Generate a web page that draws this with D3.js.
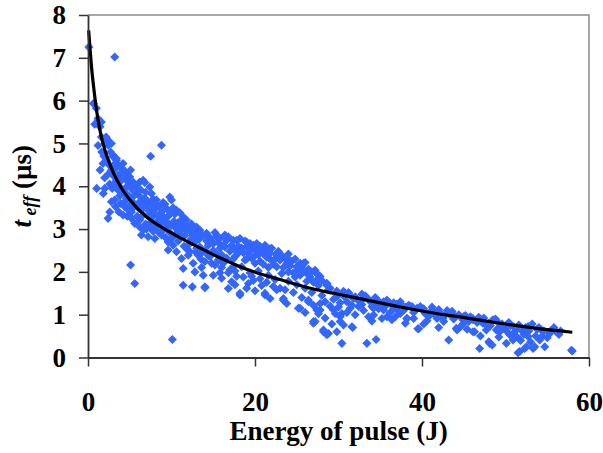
<!DOCTYPE html>
<html>
<head>
<meta charset="utf-8">
<script src="https://cdn.jsdelivr.net/npm/d3@7"></script>
<style>
  body { margin: 0; background: #fff; }
  svg { display: block; }
  svg text { font-family: 'Liberation Serif', 'Times New Roman', Tinos, 'DejaVu Serif', serif; }
</style>
</head>
<body>
<svg id="chart"></svg>
<script>
// measured points: [energy (J), t_eff (us)]
const measured = [
  [0.1, 7.25], [3.2, 7.02], [8.8, 4.96], [7.5, 4.70],
  [0.64, 5.93], [1.0, 5.82], [1.2, 5.58], [1.44, 5.39], [1.6, 5.5], [2.16, 5.15], [2.3, 5.08],
  [2.4, 4.96], [1.64, 4.80], [3.0, 4.73], [3.4, 4.65], [4.2, 4.53], [3.8, 4.45], [1.8, 4.53],
  [1.44, 4.38], [5.1, 4.38], [1.04, 3.95], [1.83, 3.83], [3.4, 4.14], [4.6, 3.98], [6.2, 4.10],
  [6.6, 4.14], [7.4, 3.98], [5.4, 4.1], [1.24, 5.54], [2.24, 5.12], [3.0, 4.69], [3.4, 4.61],
  [2.8, 4.38], [3.6, 4.26], [6.8, 4.09], [4.8, 4.10], [3.0, 4.03], [3.6, 3.91], [5.6, 3.87],
  [7.6, 3.83], [9.8, 3.75], [10.0, 3.68], [3.2, 3.68], [2.8, 3.64], [4.4, 3.64], [6.8, 3.72],
  [8.2, 3.68], [8.6, 3.52], [9.4, 3.48], [2.6, 3.40], [2.4, 3.25], [4.2, 3.33], [5.2, 3.25],
  [6.6, 3.33], [7.6, 3.44], [5.6, 3.13], [6.2, 3.21], [7.6, 3.17], [8.2, 3.05], [9.2, 3.17],
  [10.0, 3.09], [11.2, 3.21], [11.6, 3.09], [6.4, 2.86], [7.2, 2.82], [8.0, 2.78], [8.8, 2.86],
  [9.6, 2.70], [10.4, 2.86], [11.2, 3.02], [12.8, 3.02], [13.2, 2.90], [12.4, 2.78], [9.6, 2.51],
  [10.6, 2.47], [11.2, 2.31], [12.0, 2.39], [13.2, 2.39], [14.0, 2.24], [11.4, 2.08], [5.1, 2.16],
  [5.6, 1.73], [11.4, 1.69], [12.5, 1.65], [14.0, 1.63], [10.1, 0.42],
  [4.0, 4.30], [4.5, 4.20], [5.0, 4.05], [5.8, 3.95], [4.2, 3.85], [5.0, 3.75], [6.0, 3.60],
  [5.4, 3.50], [4.8, 3.45], [6.4, 3.45], [7.0, 3.55], [7.2, 3.30], [8.0, 3.35], [8.4, 3.20],
  [9.0, 3.30], [9.0, 2.98], [9.8, 2.92], [10.6, 3.00], [10.8, 2.72], [11.6, 2.85], [12.2, 2.95],
  [12.0, 2.62], [12.8, 2.70], [13.4, 2.58], [2.0, 4.20], [2.6, 4.05], [2.0, 3.95], [3.8, 3.78],
  [6.6, 2.98], [7.8, 2.95], [10.4, 3.35], [10.6, 3.44], [11.8, 3.21], [13.0, 3.05], [11.4, 3.29],
  [16.0, 1.85], [17.2, 1.77], [16.8, 1.61], [18.2, 1.50], [19.2, 1.73], [21.2, 1.50], [22.6, 1.58],
  [23.4, 1.34], [25.2, 1.15], [27.0, 0.84], [27.8, 1.11], [28.2, 0.64], [28.8, 0.56],
  [17.4, 2.12], [14.8, 2.20], [12.2, 2.47], [13.0, 2.55], [14.2, 2.90], [15.4, 2.82], [16.6, 2.74],
  [17.8, 2.74], [19.0, 2.59], [20.2, 2.51], [21.4, 2.47], [22.6, 2.39], [23.8, 2.20], [25.0, 2.12],
  [26.2, 1.96], [27.8, 1.89], [28.6, 1.69], [13.4, 2.97], [15.4, 2.86], [17.4, 2.74], [19.4, 2.66],
  [22.6, 2.43], [25.4, 2.20], [27.4, 1.96], [28.6, 1.73], [30.6, 1.54], [15.6, 2.28], [18.2, 1.46],
  [21.2, 1.46], [23.4, 1.38], [23.8, 1.26], [27.4, 1.11], [27.2, 0.84], [28.6, 0.53], [30.4, 0.33],
  [29.6, 1.03], [30.2, 0.84], [14.0, 1.65],
  [14.4, 2.62], [15.0, 2.50], [15.6, 2.68], [16.0, 2.40], [16.4, 2.58], [17.0, 2.48], [17.6, 2.36],
  [18.0, 2.60], [18.6, 2.45], [19.0, 2.30], [19.6, 2.52], [20.0, 2.38], [20.6, 2.25], [21.0, 2.42],
  [21.8, 2.30], [22.2, 2.18], [23.0, 2.28], [23.4, 2.10], [24.2, 2.14], [24.6, 1.98], [25.8, 2.02],
  [26.6, 1.88], [14.6, 2.36], [15.2, 2.16], [16.2, 2.20], [17.0, 2.05], [18.4, 2.12], [19.4, 1.98],
  [20.4, 2.02], [21.6, 1.92], [22.4, 1.82], [24.0, 1.78], [25.0, 1.70], [26.0, 1.62], [16.4, 2.86],
  [18.8, 2.72], [20.6, 2.60], [21.8, 2.54], [24.0, 2.30], [13.6, 2.44], [14.8, 2.72], [12.6, 2.20],
  [13.6, 2.10], [15.8, 1.98], [17.8, 1.90], [19.8, 1.80], [20.8, 1.68], [23.0, 1.62],
  [25.8, 2.20], [27.4, 1.81], [28.6, 1.73], [30.6, 1.54], [32.0, 1.42], [32.6, 1.30], [34.0, 1.19],
  [35.8, 1.34], [37.4, 1.30], [38.6, 1.19], [39.8, 1.19], [41.4, 1.07], [43.4, 1.03], [46.1, 0.91],
  [48.5, 0.88], [50.1, 0.76], [52.7, 0.72], [55.3, 0.56], [50.5, 0.53], [49.3, 0.60], [47.7, 0.64],
  [46.1, 0.60], [44.1, 0.68], [42.5, 0.91], [37.4, 1.03], [35.4, 1.11], [34.2, 0.99], [30.2, 0.95],
  [29.4, 1.11], [26.4, 1.34], [25.4, 1.15], [27.8, 1.26], [31.4, 1.15], [35.8, 0.95], [38.2, 0.91],
  [44.9, 0.88], [47.3, 0.80], [49.3, 0.72], [51.3, 0.64], [50.9, 0.41],
  [27.0, 0.80], [28.2, 0.60], [31.6, 0.72], [33.4, 0.33], [34.5, 0.42], [39.5, 0.67], [43.2, 0.41],
  [46.9, 0.21], [48.1, 0.33], [50.1, 0.33], [51.5, 0.11], [52.5, 0.25], [53.5, 0.25], [54.7, 0.25],
  [54.1, 0.41], [58.0, 0.15],
  [30.6, 1.50], [31.8, 1.38], [32.4, 1.19], [30.4, 1.03], [30.6, 0.76], [31.7, 0.70], [34.2, 1.15],
  [35.4, 1.30], [35.2, 0.91], [37.4, 1.26], [36.8, 0.95], [38.2, 0.91], [38.8, 1.19], [39.0, 0.91],
  [39.6, 0.67], [41.0, 1.07], [41.8, 0.91], [43.4, 0.99], [44.2, 0.64], [44.6, 0.72], [46.1, 0.88],
  [46.3, 0.60], [48.0, 0.37], [48.4, 0.29], [47.7, 0.76], [48.9, 0.64], [49.7, 0.68], [51.3, 0.49],
  [51.7, 0.14], [52.3, 0.21], [52.7, 0.49], [52.7, 0.72], [53.3, 0.21], [55.3, 0.60], [57.9, 0.17],
  [29.0, 1.62], [29.8, 1.42], [31.0, 1.30], [32.8, 1.48], [33.6, 1.36], [34.6, 1.26], [36.4, 1.22],
  [37.0, 1.12], [40.4, 1.02], [42.0, 1.12], [42.8, 1.00], [44.0, 0.96], [45.2, 0.98], [45.6, 0.84],
  [47.0, 0.86], [48.0, 0.80], [49.0, 0.84], [50.0, 0.68], [51.0, 0.72], [52.0, 0.62], [53.8, 0.66],
  [54.4, 0.50], [56.0, 0.62], [28.0, 1.45], [26.8, 1.52], [28.4, 1.30], [36.2, 1.05], [40.6, 0.86],
  // denser core, left part
  [3.2, 4.40], [3.6, 4.50], [3.9, 4.12], [4.3, 4.38], [4.6, 4.28], [5.0, 4.22], [5.3, 3.92],
  [5.7, 4.02], [6.0, 3.80], [6.3, 3.92], [6.5, 3.70], [6.9, 3.86], [7.2, 3.62], [7.6, 3.58],
  [3.3, 3.52], [3.7, 3.40], [4.4, 3.52], [4.7, 3.30], [5.2, 3.40], [5.9, 3.30], [6.2, 3.05],
  [6.9, 3.12], [7.4, 3.05], [3.9, 3.60], [4.6, 3.72], [5.4, 3.62], [6.4, 3.62], [2.9, 3.95],
  [2.5, 4.30], [2.2, 4.60], [2.7, 4.80], [3.1, 4.50], [1.9, 4.70], [2.8, 5.0],
  [7.8, 3.70], [8.3, 3.55], [8.8, 3.40], [9.2, 3.58], [9.6, 3.30], [10.2, 3.50], [10.8, 3.15],
  [11.0, 3.38], [11.8, 2.98], [12.4, 3.12], [12.9, 2.88], [8.5, 2.92], [9.3, 2.80], [10.0, 2.78],
  [10.9, 2.90], [11.5, 2.60], [12.2, 2.72], [12.9, 2.46], [8.6, 3.12], [9.4, 3.05], [10.3, 3.18],
  [7.9, 3.12], [7.0, 3.00], [11.9, 2.52], [10.2, 2.62], [13.3, 2.76], [12.6, 2.85], [13.5, 2.30],
  [5.5, 3.78], [6.1, 3.48], [6.7, 3.55], [7.3, 3.42], [7.7, 3.28], [8.1, 3.48], [8.5, 3.30],
  [8.9, 3.18], [9.5, 3.15], [9.9, 3.38], [10.5, 3.08], [11.0, 2.95], [11.5, 3.12], [12.0, 3.05],
  [8.0, 3.60], [9.0, 3.62], [5.0, 3.55], [4.0, 3.95], [4.5, 3.85], [3.5, 4.05], [3.0, 4.25],
  [2.5, 4.50], [2.0, 5.00], [1.6, 5.15], [1.2, 4.95], [0.8, 5.45],
  // denser core, middle part
  [13.8, 2.85], [14.2, 2.72], [14.6, 2.80], [15.0, 2.66], [15.2, 2.92], [15.8, 2.78], [16.2, 2.62],
  [16.8, 2.82], [17.2, 2.62], [17.6, 2.52], [18.2, 2.78], [18.4, 2.56], [19.0, 2.70], [19.2, 2.44],
  [19.8, 2.62], [20.2, 2.66], [20.4, 2.40], [20.8, 2.52], [21.2, 2.62], [21.4, 2.34], [21.8, 2.44],
  [22.0, 2.55], [22.4, 2.30], [22.8, 2.48], [23.2, 2.38], [23.6, 2.32], [24.0, 2.42], [24.4, 2.24],
  [24.8, 2.30], [25.2, 2.05], [25.6, 2.12], [26.0, 2.22], [26.4, 2.06], [26.8, 2.00], [27.2, 2.04],
  [27.6, 1.92], [28.0, 1.80], [14.0, 2.50], [14.4, 2.38], [15.4, 2.42], [15.8, 2.55], [16.6, 2.32],
  [17.4, 2.30], [18.0, 2.44], [18.8, 2.28], [19.6, 2.32], [20.0, 2.20], [21.0, 2.18], [21.6, 2.10],
  [22.6, 2.12], [23.2, 1.96], [24.0, 2.00], [24.8, 1.88], [25.4, 1.92], [26.2, 1.78], [27.0, 1.76],
  [27.6, 1.68], [16.0, 2.10], [16.8, 1.98], [17.6, 2.02], [18.6, 1.88], [19.6, 1.90], [20.6, 1.84],
  [21.4, 1.76], [22.2, 1.66], [23.6, 1.58], [24.6, 1.52], [25.6, 1.40], [26.4, 1.30], [20.0, 1.56],
  [21.8, 1.38], [19.0, 1.62], [17.6, 1.70], [15.0, 1.92], [13.8, 1.92], [12.8, 2.00], [26.0, 1.05],
  [27.6, 1.02], [28.4, 0.92], [29.2, 0.78], [29.8, 0.60], [27.0, 1.22],
  // denser core, right part
  [28.8, 1.58], [29.4, 1.36], [29.8, 1.55], [30.2, 1.28], [30.8, 1.40], [31.2, 1.52], [31.6, 1.22],
  [32.2, 1.36], [32.8, 1.24], [33.2, 1.44], [33.8, 1.30], [34.4, 1.40], [34.8, 1.14], [35.2, 1.22],
  [31.0, 1.05], [32.0, 1.00], [33.0, 1.10], [33.6, 0.95], [34.0, 0.85], [29.0, 1.20], [30.0, 1.18],
  [35.6, 1.20], [36.0, 1.30], [36.6, 1.15], [37.0, 1.25], [37.8, 1.10], [38.4, 1.22], [39.0, 1.05],
  [39.4, 1.15], [40.0, 1.12], [40.8, 0.96], [41.2, 1.18], [41.6, 0.98], [42.2, 1.04], [42.6, 0.84],
  [43.0, 1.10], [43.8, 0.90], [44.4, 1.00], [45.0, 0.80], [45.8, 0.95], [46.6, 0.82], [47.4, 0.92],
  [48.2, 0.74], [48.8, 0.90], [49.6, 0.78], [36.4, 0.88], [38.0, 0.80], [40.2, 0.78], [42.0, 0.70],
  [45.4, 0.66], [47.0, 0.50], [49.2, 0.48],
  [31.4, 1.45], [33.0, 1.38], [34.8, 1.32], [36.6, 1.28], [38.0, 1.18], [40.2, 1.14], [41.8, 1.06],
  [43.6, 1.08], [45.0, 0.96], [46.8, 0.94], [48.4, 0.86], [50.6, 0.74], [52.4, 0.70], [54.2, 0.66],
  [56.6, 0.62],
  [50.4, 0.82], [51.0, 0.58], [51.6, 0.76], [52.2, 0.54], [52.8, 0.62], [53.2, 0.78], [53.6, 0.50],
  [54.0, 0.70], [54.6, 0.62], [55.0, 0.46], [55.8, 0.70], [56.4, 0.54], [50.2, 0.60], [51.8, 0.40],
  [53.0, 0.36]
];

// fitted curve
const fitE = [0.08, 0.44, 0.84, 1.04, 1.44, 1.83, 2.24, 3.03, 4.0, 5.03, 7.03, 9.0, 11.0, 13.0,
  15.8, 19.0, 23.0, 27.0, 29.4, 33.4, 37.4, 41.4, 45.4, 49.3, 53.3, 58.0];
const fitT = [7.64, 6.75, 6.05, 5.75, 5.30, 4.98, 4.72, 4.32, 3.96, 3.68, 3.28, 3.02, 2.80, 2.60,
  2.33, 2.06, 1.82, 1.60, 1.50, 1.34, 1.18, 1.04, 0.92, 0.80, 0.69, 0.59];

const xTicks = [0, 20, 40, 60];
const yTicks = [0, 1, 2, 3, 4, 5, 6, 7, 8];

const width = 603;
const height = 453;
const plotLeft = 88, plotRight = 589, plotTop = 15, plotBottom = 357.5;
const serif = "'Liberation Serif', 'Times New Roman', Tinos, 'DejaVu Serif', serif";

const svg = d3.select('#chart').attr('width', width).attr('height', height);

const x = d3.scaleLinear().domain([0, 60]).range([plotLeft, plotRight]);
const y = d3.scaleLinear().domain([0, 8]).range([plotBottom, plotTop]);

// frame (top and right edges)
svg.append('path')
  .attr('d', `M${plotLeft},${plotTop}H${plotRight}V${plotBottom}`)
  .attr('fill', 'none')
  .attr('stroke', '#8c8c8c')
  .attr('stroke-width', 1.5);

// points
const diamond = d3.symbol().type(d3.symbolDiamond2).size(52);
svg.append('g')
  .selectAll('path')
  .data(measured)
  .join('path')
  .attr('d', diamond)
  .attr('transform', (d) => `translate(${x(d[0])},${y(d[1])})`)
  .attr('fill', '#3366ff');

// fit line
const line = d3.line().x((d, i) => x(fitE[i])).y((d, i) => y(fitT[i])).curve(d3.curveMonotoneX);
svg.append('path')
  .datum(fitE)
  .attr('d', line)
  .attr('fill', 'none')
  .attr('stroke', '#000')
  .attr('stroke-width', 3.2);

// y axis
const yAxis = svg.append('g')
  .attr('transform', `translate(${plotLeft},0)`)
  .call(d3.axisLeft(y).tickValues(yTicks).tickSize(9).tickSizeOuter(0).tickPadding(13));

// x axis
const xAxis = svg.append('g')
  .attr('transform', `translate(0,${plotBottom})`)
  .call(d3.axisBottom(x).tickValues(xTicks).tickSize(9).tickSizeOuter(0).tickPadding(25));

[yAxis, xAxis].forEach((g) => {
  g.attr('font-family', serif).attr('font-size', 27);
  g.select('.domain').attr('stroke', '#333').attr('stroke-width', 1.8);
  g.selectAll('.tick line').attr('stroke', '#333').attr('stroke-width', 1.5);
  g.selectAll('.tick text')
    .attr('fill', '#000')
    .attr('font-weight', 'bold');
});

// axis titles
svg.append('text')
  .attr('x', (plotLeft + plotRight) / 2)
  .attr('y', 440)
  .attr('text-anchor', 'middle')
  .attr('font-family', serif)
  .attr('font-weight', 'bold')
  .attr('font-size', 27)
  .text('Energy of pulse (J)');

const yTitle = svg.append('text')
  .attr('transform', `translate(31,${(plotTop + plotBottom) / 2}) rotate(-90)`)
  .attr('text-anchor', 'middle')
  .attr('font-family', serif)
  .attr('font-weight', 'bold')
  .attr('font-size', 27);
yTitle.append('tspan').attr('font-style', 'italic').text('t');
yTitle.append('tspan').attr('font-style', 'italic').attr('font-size', 18).attr('dy', 5).text(' eff');
yTitle.append('tspan').attr('dy', -5).text(' (µs)');
</script>
</body>
</html>
